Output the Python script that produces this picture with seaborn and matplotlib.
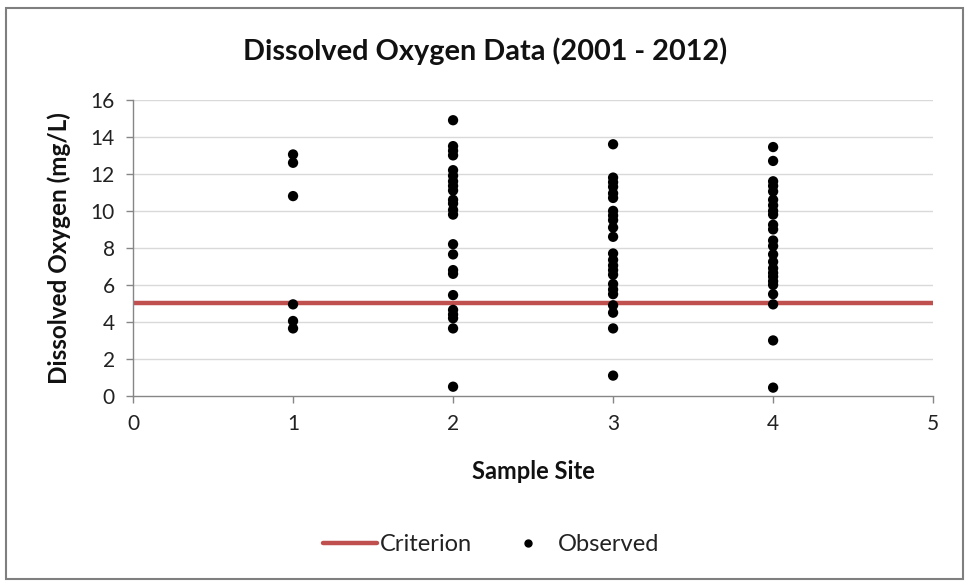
import matplotlib
matplotlib.use("Agg")
import matplotlib.pyplot as plt
import seaborn as sns
import pandas as pd
from matplotlib.lines import Line2D
from matplotlib.patches import Rectangle

# ---- data ----
site1 = [13.05, 12.6, 10.8, 4.95, 4.05, 3.65]
site2 = [14.9, 13.5, 13.25, 13.0, 12.2, 11.9, 11.6, 11.35, 11.1, 10.6, 10.4,
         10.05, 9.8, 8.2, 7.65, 6.8, 6.6, 5.45, 4.65, 4.4, 4.2, 3.65, 0.5]
site3 = [13.6, 11.8, 11.55, 11.3, 10.95, 10.7, 10.0, 9.75, 9.5, 9.1, 8.6,
         7.7, 7.35, 7.05, 6.8, 6.55, 6.05, 5.75, 5.5, 4.9, 4.5, 3.65, 1.1]
site4 = [13.45, 12.7, 11.6, 11.35, 11.05, 10.6, 10.3, 10.0, 9.8, 9.25, 9.0,
         8.4, 8.1, 7.65, 7.25, 6.9, 6.65, 6.45, 6.2, 6.0, 5.5, 4.95, 3.0, 0.45]
sites = [1, 2, 3, 4]
criterion_x = [0, 5]
criterion_y = [5, 5]
x_ticks = [0, 1, 2, 3, 4, 5]
y_ticks = [0, 2, 4, 6, 8, 10, 12, 14, 16]

rows = []
for s, vals in zip(sites, [site1, site2, site3, site4]):
    for v in vals:
        rows.append({"site": s, "do": v})
obs = pd.DataFrame(rows)
crit = pd.DataFrame({"x": criterion_x, "y": criterion_y})

sns.set_theme(style="white")
plt.rcParams["font.family"] = ["Lato", "DejaVu Sans"]

fig = plt.figure(figsize=(9.71, 5.84), dpi=100)
ax = fig.add_axes([0.137, 0.322, 0.824, 0.507])

grid_c = "#D9D9D9"
axis_c = "#868686"
for yv in y_ticks[1:]:
    ax.axhline(yv, color=grid_c, lw=1.0, zorder=0)

sns.lineplot(data=crit, x="x", y="y", ax=ax, color="#C0504D", lw=3.2,
             zorder=2, legend=False)
sns.scatterplot(data=obs, x="site", y="do", ax=ax, color="black", s=55,
                edgecolor="none", zorder=3, legend=False)

ax.set_xlim(0, 5)
ax.set_ylim(0, 16)
ax.set_xticks(x_ticks)
ax.set_yticks(y_ticks)
ax.tick_params(axis="both", labelsize=15, length=5, width=1,
               direction="out", bottom=True, left=True, pad=8,
               color=axis_c, labelcolor="#222222")
for sp in ["top", "right"]:
    ax.spines[sp].set_visible(False)
for sp in ["left", "bottom"]:
    ax.spines[sp].set_color(axis_c)
    ax.spines[sp].set_linewidth(1.0)

ax.set_xlabel("Sample Site", fontsize=17, fontweight="bold", color="#111111")
ax.set_ylabel("Dissolved Oxygen (mg/L)", fontsize=17.5, fontweight="bold",
              color="#111111")
ax.xaxis.set_label_coords(0.5, -0.215)
ax.yaxis.set_label_coords(-0.077, 0.5)
fig.text(0.5, 0.913, "Dissolved Oxygen Data (2001 - 2012)", ha="center",
         va="center", fontsize=20.8, fontweight="bold", color="#111111")

handles = [Line2D([0], [0], color="#C0504D", lw=3.2),
           Line2D([0], [0], marker="o", color="black", lw=0, markersize=5)]
fig.legend(handles, ["Criterion", "Observed"], loc="center",
           bbox_to_anchor=(0.506, 0.068), ncol=2, frameon=False,
           fontsize=17, handlelength=2.26, handletextpad=0.12,
           columnspacing=1.28, labelcolor="#222222")

fig.patches.append(Rectangle((0.006, 0.008), 0.986, 0.978,
                             transform=fig.transFigure, fill=False,
                             edgecolor="#7F7F7F", lw=1.5))

fig.savefig("out.png", dpi=100, facecolor="white")
